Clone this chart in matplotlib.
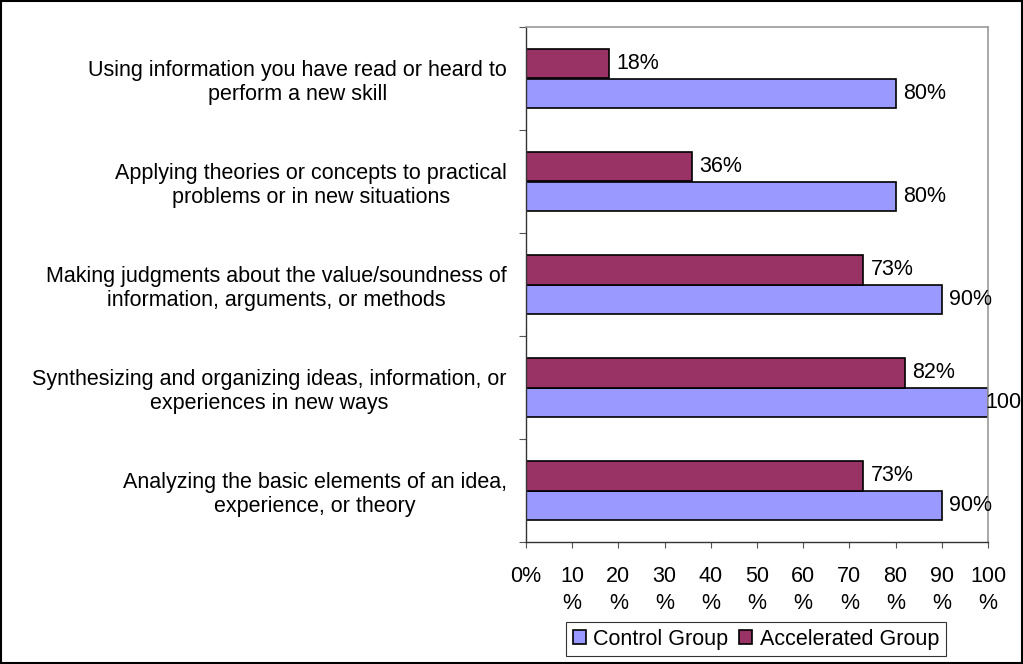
import matplotlib
matplotlib.use("Agg")
import matplotlib.pyplot as plt
import numpy as np
from matplotlib.patches import Rectangle

categories = [
    "Using information you have read or heard to\nperform a new skill",
    "Applying theories or concepts to practical\nproblems or in new situations",
    "Making judgments about the value/soundness of\ninformation, arguments, or methods",
    "Synthesizing and organizing ideas, information, or\nexperiences in new ways",
    "Analyzing the basic elements of an idea,\nexperience, or theory",
]
control = [80, 80, 90, 100, 90]
accelerated = [18, 36, 73, 82, 73]
xtick_labels = ["0%"] + [f"{v}\n%" for v in range(10, 101, 10)]
series_names = ["Control Group", "Accelerated Group"]

FS = 15.5
plt.rcParams['font.family'] = ['Liberation Sans', 'DejaVu Sans']
fig = plt.figure(figsize=(10.23, 6.64), dpi=100)
ax = fig.add_axes([526/1023, 1-542/664, (988-526)/1023, (542-27)/664])

n = len(categories)
y = np.arange(n)
h = 0.285
c_ctrl = "#9999FF"
c_acc = "#993366"
b1 = ax.barh(y + h/2, control, height=h, color=c_ctrl, edgecolor="black", linewidth=1.2, label=series_names[0])
b2 = ax.barh(y - h/2, accelerated, height=h, color=c_acc, edgecolor="black", linewidth=1.2, label=series_names[1])
for bars, vals in ((b1, control), (b2, accelerated)):
    for rect, v in zip(bars, vals):
        ax.text(min(v + 1.6, 99.4), rect.get_y() + rect.get_height()/2, f"{v}%",
                va="center", ha="left", fontsize=FS, clip_on=False)

ax.set_ylim(n - 0.5, -0.5)
ax.set_xlim(0, 100)
ax.set_yticks(y)
ax.set_yticklabels(categories, fontsize=FS, multialignment="center")
ax.tick_params(axis="y", length=0, pad=14)
ax.set_yticks(np.arange(-0.5, n, 1), minor=True)
ax.tick_params(axis="y", which="minor", length=5, direction="out", width=0.8, color="#555555")
ax.set_xticks(np.arange(0, 101, 10))
ax.set_xticklabels(xtick_labels, fontsize=FS, linespacing=1.4)
ax.tick_params(axis="x", length=4, direction="out", width=0.8, color="#555555", pad=13)

for s in ["top", "right"]:
    ax.spines[s].set_color("#999999")
    ax.spines[s].set_linewidth(1.2)
for s in ["left", "bottom"]:
    ax.spines[s].set_color("#333333")
    ax.spines[s].set_linewidth(1.0)

handles = [b1, b2]
leg = fig.legend(handles, series_names, loc="center", bbox_to_anchor=(756/1023, 1-639/664),
                 ncol=2, frameon=True, fancybox=False, edgecolor="black", fontsize=FS,
                 handlelength=0.6, handleheight=0.6, handletextpad=0.35, columnspacing=0.5,
                 borderpad=0.3, borderaxespad=0)
leg.get_frame().set_linewidth(0.8)

fig.patches.append(Rectangle((0.001, 0.001), 0.998, 0.997, transform=fig.transFigure,
                             fill=False, edgecolor="black", linewidth=1.5))
fig.savefig("out.png", dpi=100)
